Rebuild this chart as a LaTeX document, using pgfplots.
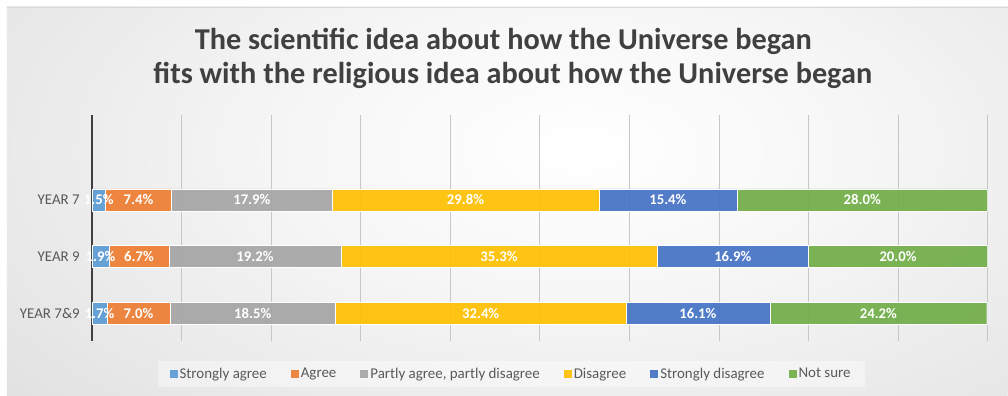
\documentclass[border=0pt]{standalone}
\usepackage{fontspec}
\setmainfont{Carlito}
\usepackage{pgfplots}
\usepackage{pgfplotstable}
\pgfplotsset{compat=1.18}
\definecolor{c1}{HTML}{5B9BD5}
\definecolor{c2}{HTML}{ED7D31}
\definecolor{c3}{HTML}{A5A5A5}
\definecolor{c4}{HTML}{FFC000}
\definecolor{c5}{HTML}{4472C4}
\definecolor{c6}{HTML}{70AD47}
\definecolor{txt}{HTML}{404040}
\definecolor{lab}{HTML}{595959}
\pgfdeclareradialshading{bgshade}{\pgfpoint{0bp}{0bp}}{color(0bp)=(white); color(10bp)=(white!97!black); color(28bp)=(black!11); color(50bp)=(black!26); color(71bp)=(black!30)}
\pgfplotstableread{
y sa ag pa di sd ns
0 1.5 7.4 17.9 29.8 15.4 28.0
1 1.9 6.7 19.2 35.3 16.9 20.0
2 1.7 7.0 18.5 32.4 16.1 24.2
}\data
\pgfplotsset{
  common/.style={
    at={(540bp,-228bp)}, anchor=center,
    scale only axis, width=896bp, height=226bp,
    xbar stacked, bar width=22bp,
    xmin=0, xmax=100,
    ymin=-1.5, ymax=2.49, y dir=reverse},
  lbl/.style={
    draw=none, fill=none,
    point meta=\thisrow{#1},
    nodes near coords={\pgfmathprintnumber[fixed,fixed zerofill,precision=1,assume math mode=true]{\pgfplotspointmeta}\%},
    every node near coord/.append style={anchor=center, inner sep=0pt,
      font=\bfseries\fontsize{14.8}{14.8}\selectfont, text=white}}}
\begin{document}
\begin{tikzpicture}
\fill[white] (0,0) rectangle (1008bp,-396bp);
\begin{scope}
\clip (7bp,-7bp) rectangle (1008bp,-396bp);
\shade[shading=bgshade] (-60bp,180bp) rectangle (1220bp,-480bp);
\end{scope}
\draw[black!15, line width=0.8bp] (7bp,-7bp) -- (1008bp,-7bp);
\node[txt, font=\bfseries\fontsize{30.4}{30.4}\selectfont, anchor=base, inner sep=0pt] at (503.5bp,-49.3bp) {The scientific idea about how the Universe began};
\node[txt, font=\bfseries\fontsize{30.4}{30.4}\selectfont, anchor=base, inner sep=0pt] at (513bp,-83.3bp) {fits with the religious idea about how the Universe began};
\begin{axis}[
  common,
  ytick={0,1,2}, yticklabels={YEAR 7, YEAR 9, YEAR 7\&9},
  yticklabel style={font=\fontsize{15}{15}\selectfont, text=lab, anchor=east, xshift=-12bp, inner sep=0pt},
  xtick={10,20,...,100}, xticklabels={},
  extra x ticks={0}, extra x tick labels={},
  extra x tick style={grid style={black!75, line width=1.6bp}},
  xmajorgrids, grid style={black!22, line width=0.8bp},
  tick style={draw=none},
  axis line style={draw=none},
  legend columns=6,
  legend style={at={(0.468,-0.146)}, anchor=center, draw=none, fill=white, fill opacity=0.4, text opacity=1,
    font=\fontsize{15}{15}\selectfont, text=lab, inner xsep=12bp, inner ysep=5bp,
    /tikz/every even column/.append style={column sep=22bp}},
  legend image code/.code={\fill[#1, draw=none] (0bp,-4bp) rectangle (8bp,4bp);},
]
\addplot[fill=c1, draw=white, fill opacity=0.92] table[x=sa,y=y]{\data};
\addplot[fill=c2, draw=white, fill opacity=0.92] table[x=ag,y=y]{\data};
\addplot[fill=c3, draw=white, fill opacity=0.92] table[x=pa,y=y]{\data};
\addplot[fill=c4, draw=white, fill opacity=0.92] table[x=di,y=y]{\data};
\addplot[fill=c5, draw=white, fill opacity=0.92] table[x=sd,y=y]{\data};
\addplot[fill=c6, draw=white, fill opacity=0.92] table[x=ns,y=y]{\data};
\legend{Strongly agree, Agree, {Partly agree, partly disagree}, Disagree, Strongly disagree, Not sure}
\end{axis}
\begin{axis}[common, hide axis, clip=false]
\addplot[lbl=sa] table[x=sa,y=y]{\data};
\addplot[lbl=ag] table[x=ag,y=y]{\data};
\addplot[lbl=pa] table[x=pa,y=y]{\data};
\addplot[lbl=di] table[x=di,y=y]{\data};
\addplot[lbl=sd] table[x=sd,y=y]{\data};
\addplot[lbl=ns] table[x=ns,y=y]{\data};
\end{axis}
\end{tikzpicture}
\end{document}
